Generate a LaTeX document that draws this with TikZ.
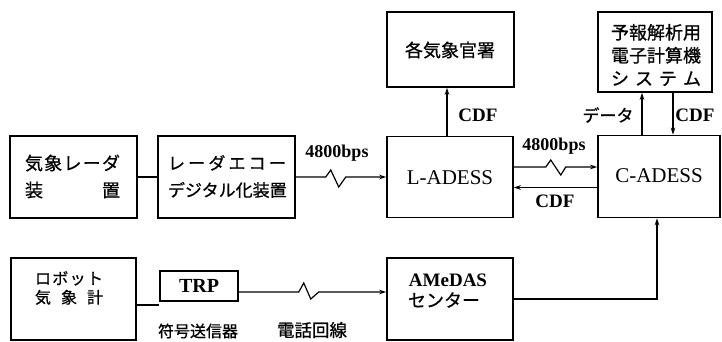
\documentclass[tikz,border=0pt]{standalone}
\usepackage{fontspec}
\setmainfont{Liberation Serif}
\newfontfamily\jp[FakeBold=0.7]{Noto Sans CJK JP}
\usetikzlibrary{arrows.meta}
\begin{document}
\begin{tikzpicture}[x=1pt,y=-1pt,
  box/.style={draw,line width=1.5pt,inner sep=0pt},
  lbl/.style={inner sep=0pt},
  conn/.style={line width=1.2pt},
  arr/.style={conn,-{Stealth[length=7pt,width=4.5pt]}},
  jpt/.style={lbl,font=\jp\fontsize{#1}{#1}\selectfont},
  lat/.style={lbl,font=\fontsize{#1}{#1}\selectfont},
  latb/.style={lbl,font=\bfseries\fontsize{#1}{#1}\selectfont}]
\useasboundingbox (0,0) rectangle (722,341);
% boxes
\node[box,minimum width=127pt,minimum height=82pt] (radar) at (73.5,177) {};
\node[box,minimum width=137pt,minimum height=82pt] (dig) at (226.5,177) {};
\node[box,minimum width=126pt,minimum height=81pt] (lad) at (450,177) {};
\node[box,minimum width=122pt,minimum height=82pt] (cad) at (659,176.5) {};
\node[box,minimum width=127pt,minimum height=75pt] (kansho) at (450.5,49.5) {};
\node[box,minimum width=114pt,minimum height=80pt] (yoho) at (655,52) {};
\node[box,minimum width=125pt,minimum height=82pt] (robot) at (73.5,299) {};
\node[box,minimum width=78pt,minimum height=30pt] (trp) at (199,286) {};
\node[box,minimum width=126pt,minimum height=82pt] (amedas) at (450,299) {};
% box texts
\node[jpt=18,align=center,text width=95pt,font=\jp\fontsize{18}{27}\selectfont] (radarT) at (72.5,176.5) {気\hfill 象\hfill レ\hfill ー\hfill ダ\\装\hfill 置};
\node[jpt=17,align=center,text width=118pt,font=\jp\fontsize{17}{27}\selectfont] (digT) at (227,176.5) {レ\hfill ー\hfill ダ\hfill エ\hfill コ\hfill ー\\デジタル化装置};
\node[jpt=18] (kanshoT) at (450,50) {各気象官署};
\node[jpt=18,align=center,text width=90pt,font=\jp\fontsize{18}{23}\selectfont] (yohoT) at (656,55) {予報解析用\\電子計算機\\シ\hfill ス\hfill テ\hfill ム};
\node[lat=21] (ladT) at (450,178) {L-ADESS};
\node[lat=21] (cadT) at (659,176) {C-ADESS};
\node[jpt=16,align=center,text width=68pt,font=\jp\fontsize{16}{19}\selectfont] (robotT) at (69,288) {ロ\hfill ボ\hfill ッ\hfill ト\\気\hfill 象\hfill 計};
\node[latb=20] (trpT) at (trp) {TRP};
\node[latb=19] (amedasT1) at (448,280) {AMeDAS};
\node[jpt=18] (amedasT2) at (444,300) {センター};
% labels
\node[latb=18] (bps1) at (337,153) {4800bps};
\node[latb=18] (bps2) at (554,146) {4800bps};
\node[latb=19] (cdf1) at (478,115) {CDF};
\node[jpt=17] (data) at (608,115) {データ};
\node[latb=19] (cdf2) at (695,115) {CDF};
\node[latb=19] (cdf3) at (555,201.5) {CDF};
\node[jpt=16] (fugo) at (198,331) {符号送信器};
\node[jpt=17.5] (denwa) at (312,330) {電話回線};
% connectors
\draw[conn] (radar.east) -- (dig.west);
\draw[arr] (dig.east) -- ++(30,0) -- ++(5,-7) -- ++(8,17) -- ++(7,-10) -- (lad.west);
\draw[arr] ([yshift=10pt]lad.east) coordinate (a1) -- ++(32,0) -- ++(5,-7) -- ++(10,15) -- ++(5,-8) -- (a1 -| cad.west);
\draw[arr] ([yshift=-11pt]cad.west) coordinate (b1) -- (b1 -| lad.east);
\draw[arr] ([xshift=-3pt]lad.north) coordinate (c1) -- (c1 |- kansho.south);
\draw[arr] ([xshift=-17pt]cad.north) coordinate (d1) -- (d1 |- yoho.south);
\draw[arr] ([xshift=18pt]yoho.south) coordinate (d2) -- (d2 |- cad.north);
\draw[conn] ([yshift=-6pt]robot.east) coordinate (e1) -- (e1 -| trp.west);
\draw[arr] ([yshift=-6pt]trp.east) coordinate (t0) -- ++(60,0) -- ++(5,-9) -- ++(7,16) -- ++(8,-7) -- (t0 -| amedas.west);
\draw[arr] (amedas.east) -| ([xshift=-2pt]cad.south);
\end{tikzpicture}
\end{document}
